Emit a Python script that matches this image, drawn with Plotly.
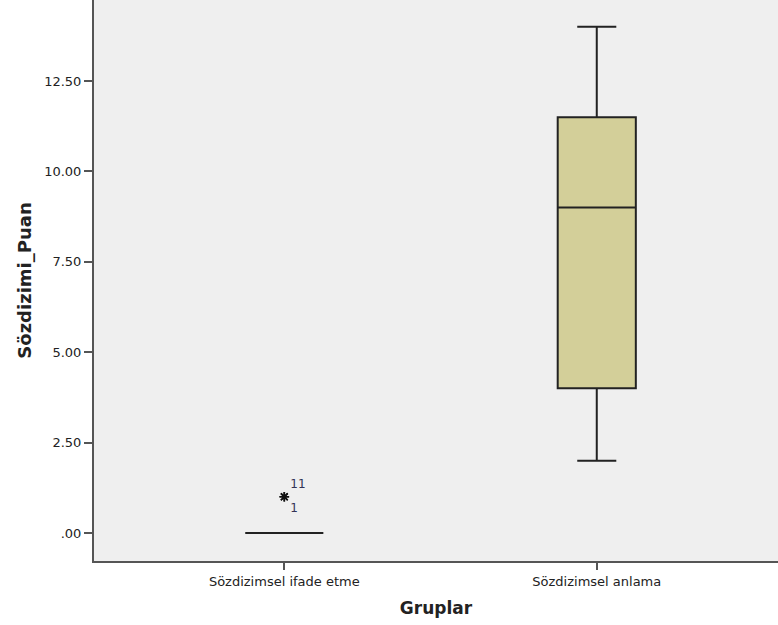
import plotly.graph_objects as go

groups = ["Sözdizimsel ifade etme", "Sözdizimsel anlama"]
lower_fence = [0, 2]
q1 = [0, 4]
median = [0, 9]
q3 = [0, 11.5]
upper_fence = [0, 14]

outlier_group = [groups[0], groups[0]]
outlier_values = [1, 1]
outlier_cases = ["11", "1"]
outlier_textpos = ["top right", "bottom right"]

tick_vals = [0, 2.5, 5, 7.5, 10, 12.5]
tick_text = [".00", "2.50", "5.00", "7.50", "10.00", "12.50"]

fig = go.Figure()
fig.add_trace(go.Box(
    x=groups, q1=q1, median=median, q3=q3,
    lowerfence=lower_fence, upperfence=upper_fence,
    width=0.25, whiskerwidth=0.5,
    fillcolor="#d3cf99",
    line=dict(color="#222222", width=2),
    boxpoints=False, showlegend=False, hoverinfo="skip",
))
fig.add_trace(go.Scatter(
    x=outlier_group, y=outlier_values,
    mode="markers+text",
    text=outlier_cases, textposition=outlier_textpos,
    textfont=dict(family="DejaVu Sans", size=12, color="#333355"),
    marker=dict(symbol="asterisk-open", size=8, color="#111111",
                line=dict(color="#111111", width=1.6)),
    showlegend=False, hoverinfo="skip",
))

fig.update_layout(
    width=778, height=625,
    margin=dict(l=94, r=0, t=0, b=64),
    paper_bgcolor="white",
    plot_bgcolor="#efefef",
    font=dict(family="DejaVu Sans", size=13, color="#222222"),
    xaxis=dict(
        type="category", range=[-0.609, 1.58], automargin=False,
        showline=True, linecolor="#555555", linewidth=2,
        ticks="outside", ticklen=7, tickwidth=2, tickcolor="#555555",
        showgrid=False, zeroline=False,
        tickfont=dict(size=13, color="#222222"),
        title=dict(text="<b>Gruplar</b>", font=dict(size=17, color="#222222"), standoff=15),
    ),
    yaxis=dict(
        range=[-0.775, 14.74], automargin=False,
        tickvals=tick_vals, ticktext=tick_text,
        showline=True, linecolor="#555555", linewidth=2,
        ticks="outside", ticklen=8, tickwidth=2, tickcolor="#555555",
        showgrid=False, zeroline=False,
        tickfont=dict(size=13, color="#222222"),
        title=dict(text="<b>Sözdizimi_Puan</b>", font=dict(size=18, color="#222222"), standoff=8),
    ),
)

fig.write_html(
    "out.html",
    config={"displayModeBar": False},
    post_script="document.body.style.margin='0';document.body.style.overflow='hidden';",
)
